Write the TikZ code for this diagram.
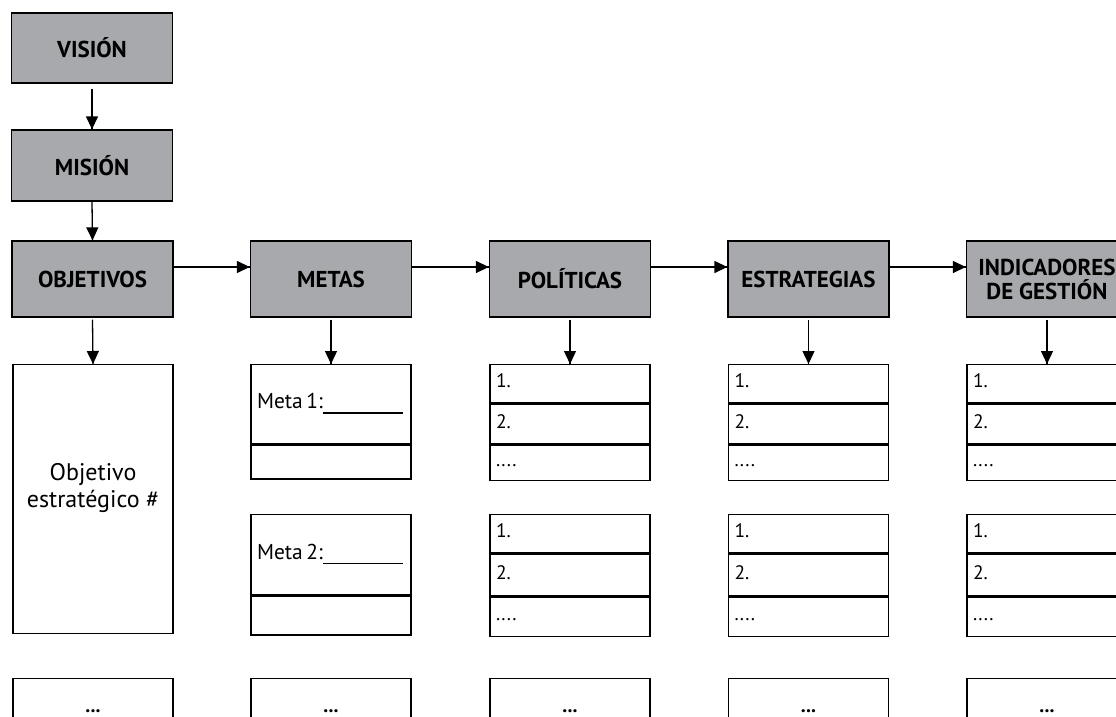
\documentclass[tikz,border=0pt]{standalone}
\usepackage{fontspec}
\setmainfont{PT Sans}
\usetikzlibrary{arrows.meta}
\usetikzlibrary{decorations.markings}
\usetikzlibrary{positioning}
\definecolor{grisCaja}{RGB}{167,169,172}
\tikzset{flecha/.style = {decoration={markings,
                                  mark=at position 1 with {\arrow{Triangle[length=13pt,width=12pt]}}},
                      postaction={decorate}}}
\tikzset{cabecera/.style = {draw, line width=1.3pt, fill=grisCaja, minimum width=161pt,
                            minimum height=76pt, inner sep=0pt, align=center,
                            font=\bfseries\fontsize{23}{24}\selectfont}}
\tikzset{fila/.style = {draw, line width=1.3pt, anchor=north, text width=148pt, inner xsep=6pt,
                        inner ysep=0pt, align=left, font=\fontsize{19.5}{21}\selectfont}}
\tikzset{caja/.style = {draw, line width=1.3pt, minimum width=160pt, inner sep=0pt, anchor=north}}

\begin{document}
\begin{tikzpicture}[x=1pt, y=-1pt, line width=1.3pt]
    \useasboundingbox (0, 0) rectangle (1116, 717);
    \node [cabecera, minimum height=70pt] (vision) at (92, 48) {VISIÓN};
    \node [cabecera, minimum height=71pt] (mision) at (92, 165.5) {MISIÓN};
    \node [cabecera] (objetivos) at (92.5, 279) {OBJETIVOS};
    \node [cabecera] (metas) at (331, 279) {METAS};
    \node [cabecera] (politicas) at (570, 279) {POLÍTICAS};
    \node [cabecera] (estrategias) at (808.5, 279) {ESTRATEGIAS};
    \node [cabecera] (indicadores) at (1047, 279) {INDICADORES\\DE GESTIÓN};
    \draw [flecha] ([yshift=-5pt]vision.south) -- (mision.north);
    \draw [flecha] (mision.south) -- (objetivos.north);
    \draw [flecha] ([yshift=12pt]objetivos.east) -- ([yshift=12pt]metas.west);
    \draw [flecha] ([yshift=12pt]metas.east) -- ([yshift=12pt]politicas.west);
    \draw [flecha] ([yshift=12pt]politicas.east) -- ([yshift=12pt]estrategias.west);
    \draw [flecha] ([yshift=12pt]estrategias.east) -- ([yshift=12pt]indicadores.west);
    % objetivo
    \node [caja, minimum height=269pt] (obj-caja) at (93, 364) {};
    \node [align=center, font=\fontsize{24}{27}\selectfont] (obj-texto) at (93, 488) {Objetivo\\estratégico \#};
    \draw [flecha] ([yshift=-2pt]objetivos.south) -- (obj-caja.north);
    % metas
    \node [fila, minimum height=79pt, font=\fontsize{21.5}{23}\selectfont] (meta-a1) at (331, 364) {\strut Meta\,1:\rule[-5pt]{80pt}{1.6pt}};
    \node [fila, minimum height=34pt] (meta-a2) at (meta-a1.south) {};
    \node [fila, minimum height=80pt, font=\fontsize{21.5}{23}\selectfont] (meta-b1) at (331, 514) {\strut Meta\,2:\rule[-5pt]{80pt}{1.6pt}};
    \node [fila, minimum height=39pt] (meta-b2) at (meta-b1.south) {};
    \draw [flecha] ([yshift=-2pt]metas.south) -- (meta-a1.north);
    % listas
    \foreach \col/\cx/\cab in {pol/570/politicas, est/808.5/estrategias, ind/1047/indicadores} {
      \foreach \g/\top/\hb/\hc in {a/364/40/35, b/514/42/39} {
        \node [fila, minimum height=38pt] (\col-\g1) at (\cx, \top) {\strut 1.};
        \node [fila, minimum height=\hb pt] (\col-\g2) at (\col-\g1.south) {\strut 2.};
        \node [fila, minimum height=\hc pt] (\col-\g3) at (\col-\g2.south) {\strut ....};
      }
      \draw [flecha] ([yshift=-2pt]\cab.south) -- (\col-a1.north);
    }
    % cajas finales
    \foreach \col/\cx in {obj/93, meta/331, pol/570, est/808.5, ind/1047} {
      \node [caja, minimum height=80pt] (\col-fin) at (\cx, 678) {};
      \node [anchor=base, font=\bfseries\fontsize{20}{22}\selectfont] (\col-puntos) at (\cx, 712) {...};
    }
\end{tikzpicture}
\end{document}
